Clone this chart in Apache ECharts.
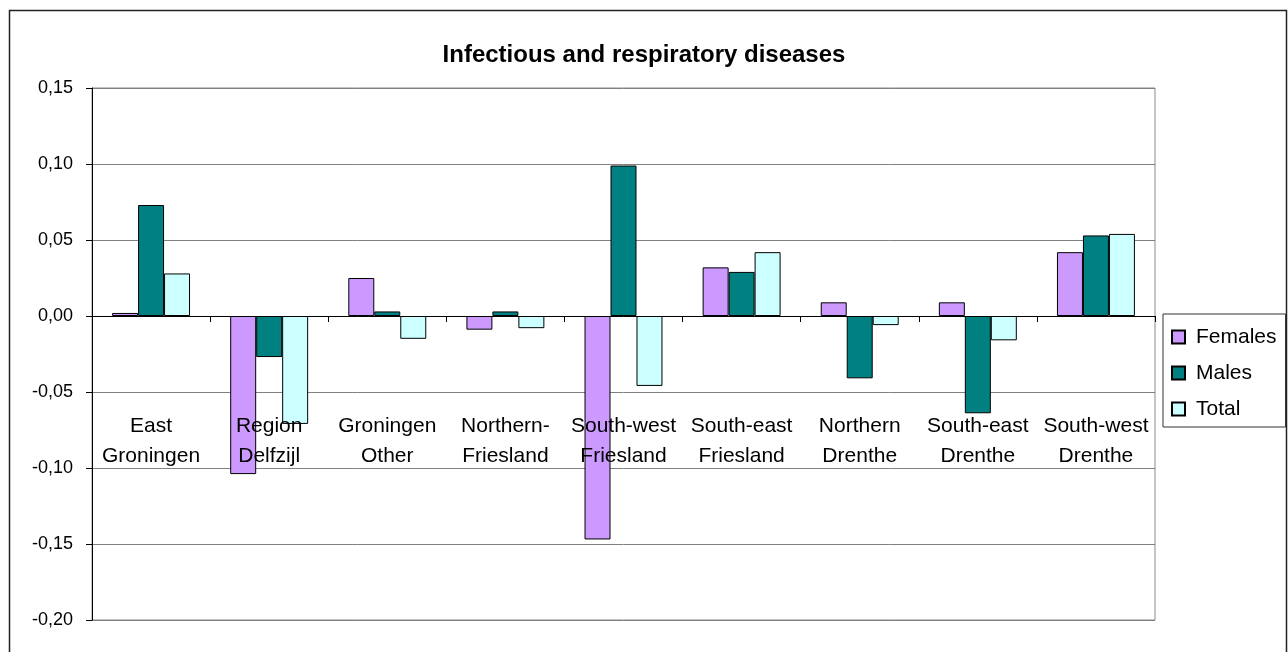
<!DOCTYPE html>
<html>
<head>
<meta charset="utf-8">
<title>Infectious and respiratory diseases</title>
<script src="https://cdn.jsdelivr.net/npm/echarts@6/dist/echarts.min.js"></script>
<style>
  html, body { margin: 0; padding: 0; background: #fff; }
  #chart { width: 1288px; height: 652px; }
</style>
</head>
<body>
<div id="chart"></div>
<script>
// Regions (two-line labels)
const regions = [
  'East\nGroningen', 'Region\nDelfzijl', 'Groningen\nOther',
  'Northern-\nFriesland', 'South-west\nFriesland', 'South-east\nFriesland',
  'Northern\nDrenthe', 'South-east\nDrenthe', 'South-west\nDrenthe'
];

// Values per region
const females = [0.002, -0.104, 0.025, -0.009, -0.147, 0.032, 0.009, 0.009, 0.042];
const males   = [0.073, -0.027, 0.003, 0.003, 0.099, 0.029, -0.041, -0.064, 0.053];
const total   = [0.028, -0.071, -0.015, -0.008, -0.046, 0.042, -0.006, -0.016, 0.054];

// Value axis range
const yMin = -0.20;
const yMax = 0.15;
const yStep = 0.05;

const FONT = "'Liberation Sans', Arial, sans-serif";

const chart = echarts.init(document.getElementById('chart'), null, { renderer: 'canvas' });

function barSeries(name, data, color) {
  return {
    name: name,
    type: 'bar',
    data: data,
    barGap: '0%',
    barCategoryGap: '34%',
    itemStyle: { color: color, borderColor: '#000', borderWidth: 1 },
    emphasis: { disabled: true }
  };
}

chart.setOption({
  animation: false,
  backgroundColor: '#fff',
  title: {
    text: 'Infectious and respiratory diseases',
    left: 'center',
    top: 38,
    textStyle: { fontFamily: FONT, fontSize: 24, fontWeight: 'bold', color: '#000' }
  },
  graphic: [{
    type: 'rect',
    shape: { x: 9.5, y: 10.5, width: 1277, height: 660 },
    style: { fill: null, stroke: '#222', lineWidth: 1.5 },
    silent: true
  }],
  legend: {
    orient: 'vertical',
    left: 1163,
    top: 314,
    padding: [11, 9, 6, 8],
    itemGap: 12,
    itemWidth: 13,
    itemHeight: 13,
    borderColor: '#333',
    borderWidth: 1,
    icon: 'rect',
    textStyle: { fontFamily: FONT, fontSize: 21, color: '#000', lineHeight: 24, padding: [0, 0, 0, 6] },
    data: ['Females', 'Males', 'Total']
  },
  grid: {
    left: 92,
    right: 133,
    top: 88,
    bottom: 32,
    show: true,
    borderColor: '#8a8a8a',
    borderWidth: 1,
    backgroundColor: 'transparent',
    containLabel: false,
    outerBoundsMode: 'none'
  },
  xAxis: {
    type: 'category',
    data: regions,
    boundaryGap: true,
    z: 5,
    axisLine: { onZero: true, lineStyle: { color: '#000', width: 1 } },
    axisTick: { show: true, interval: 0, length: 6, lineStyle: { color: '#000' } },
    axisLabel: {
      interval: 0,
      margin: -209,
      fontFamily: FONT,
      fontSize: 21,
      lineHeight: 30,
      color: '#000',
      hideOverlap: false
    },
    splitLine: { show: false }
  },
  yAxis: {
    type: 'value',
    min: yMin,
    max: yMax,
    interval: yStep,
    axisLine: { show: true, lineStyle: { color: '#000', width: 1 } },
    axisTick: { show: true, length: 6, lineStyle: { color: '#000' } },
    axisLabel: {
      margin: 19,
      fontFamily: FONT,
      fontSize: 18,
      color: '#000',
      formatter: function (v) {
        if (Math.abs(v) < 1e-9) v = 0;
        return v.toFixed(2).replace('.', ',');
      }
    },
    splitLine: { show: true, lineStyle: { color: '#808080', width: 1 } }
  },
  series: [
    barSeries('Females', females, '#CC99FF'),
    barSeries('Males', males, '#008080'),
    barSeries('Total', total, '#CCFFFF')
  ]
});
</script>
</body>
</html>
